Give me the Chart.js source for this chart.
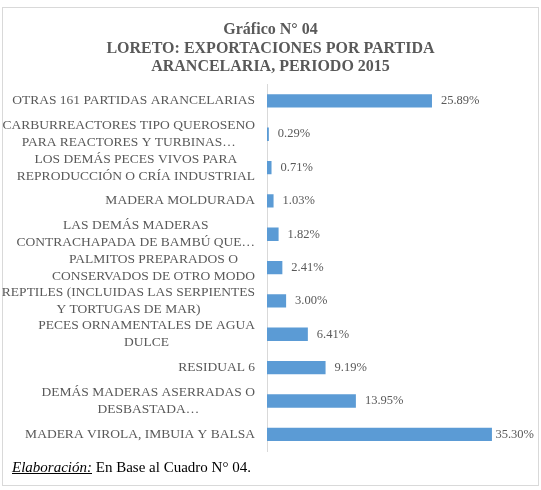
<!DOCTYPE html>
<html lang="es">
<head>
    <meta charset="UTF-8">
    <title>Gráfico N° 04</title>
    <script src="https://cdn.jsdelivr.net/npm/chart.js"></script>
    <style>
        body { margin: 0; background: #fff; }
        #frame {
            position: absolute; left: 2px; top: 7px;
            width: 535px; height: 477px;
            border: 1px solid #d9d9d9;
        }
        #wrap { position: absolute; left: 0; top: 0; width: 541px; height: 490px; }
        #note {
            position: absolute; left: 12px; top: 459px;
            font-family: "Liberation Serif", "Times New Roman", serif;
            font-size: 15px; color: #000;
        }
        #note em { text-decoration: underline; }
    </style>
</head>
<body>
    <div id="frame"></div>
    <div id="wrap"><canvas id="chart"></canvas></div>
    <div id="note"><em>Elaboración:</em> En Base al Cuadro N° 04.</div>

    <script>
        const categories = [
            'OTRAS 161 PARTIDAS ARANCELARIAS',
            ['CARBURREACTORES TIPO QUEROSENO', 'PARA REACTORES Y TURBINAS…'],
            ['LOS DEMÁS PECES VIVOS PARA', 'REPRODUCCIÓN O CRÍA INDUSTRIAL'],
            'MADERA MOLDURADA',
            ['LAS DEMÁS MADERAS', 'CONTRACHAPADA DE BAMBÚ QUE…'],
            ['PALMITOS PREPARADOS O', 'CONSERVADOS DE OTRO MODO'],
            ['REPTILES (INCLUIDAS LAS SERPIENTES', 'Y TORTUGAS DE MAR)'],
            ['PECES ORNAMENTALES DE AGUA', 'DULCE'],
            'RESIDUAL 6',
            ['DEMÁS MADERAS ASERRADAS O', 'DESBASTADA…'],
            'MADERA VIROLA, IMBUIA Y BALSA'
        ];
        const shares = [25.89, 0.29, 0.71, 1.03, 1.82, 2.41, 3.00, 6.41, 9.19, 13.95, 35.30];
        const titleLines = ['Gráfico N° 04', 'LORETO: EXPORTACIONES POR PARTIDA', 'ARANCELARIA, PERIODO 2015'];

        const serif = '"Liberation Serif", "Times New Roman", serif';
        const grey = '#595959';

        // category labels: blocks right-aligned next to the axis, lines centred inside each block
        const categoryLabels = {
            id: 'categoryLabels',
            afterDraw(chart) {
                const ctx = chart.ctx;
                const y = chart.scales.y;
                const right = y.right - 12;
                const lh = 17;
                ctx.save();
                ctx.font = '13.5px ' + serif;
                ctx.fillStyle = grey;
                ctx.textAlign = 'center';
                ctx.textBaseline = 'middle';
                categories.forEach((lab, i) => {
                    const lines = Array.isArray(lab) ? lab : [lab];
                    const w = Math.max(...lines.map(l => ctx.measureText(l).width));
                    const cx = right - w / 2;
                    const cy = y.getPixelForTick(i);
                    lines.forEach((l, k) => {
                        ctx.fillText(l, cx, cy + (k - (lines.length - 1) / 2) * lh);
                    });
                });
                ctx.restore();
            }
        };

        const valueLabels = {
            id: 'valueLabels',
            afterDatasetsDraw(chart) {
                const ctx = chart.ctx;
                const meta = chart.getDatasetMeta(0);
                ctx.save();
                ctx.font = '12.5px ' + serif;
                ctx.fillStyle = grey;
                ctx.textAlign = 'left';
                ctx.textBaseline = 'middle';
                meta.data.forEach((bar, i) => {
                    const txt = shares[i].toFixed(2) + '%';
                    const w = ctx.measureText(txt).width;
                    const x = Math.min(bar.x + 9, 534 - w);
                    ctx.fillText(txt, x, bar.y);
                });
                ctx.restore();
            }
        };

        new Chart(document.getElementById('chart'), {
            type: 'bar',
            data: {
                labels: categories,
                datasets: [{
                    data: shares,
                    backgroundColor: '#5b9bd5',
                    borderWidth: 0,
                    barPercentage: 0.4,
                    categoryPercentage: 1
                }]
            },
            options: {
                indexAxis: 'y',
                responsive: true,
                maintainAspectRatio: false,
                animation: false,
                layout: { padding: { top: 0, bottom: 39, left: 0, right: 0 } },
                scales: {
                    x: { display: false, min: 0, max: 43 },
                    y: {
                        ticks: { display: false },
                        grid: { display: false },
                        border: { display: true, color: '#d9d9d9', width: 1 },
                        afterFit(scale) { scale.width = 267; }
                    }
                },
                plugins: {
                    legend: { display: false },
                    tooltip: { enabled: false },
                    title: {
                        display: true,
                        text: titleLines,
                        color: grey,
                        font: { family: serif, size: 16, weight: 'bold', lineHeight: 1.15 },
                        padding: { top: 21, bottom: 8 }
                    }
                }
            },
            plugins: [categoryLabels, valueLabels]
        });
    </script>
</body>
</html>
